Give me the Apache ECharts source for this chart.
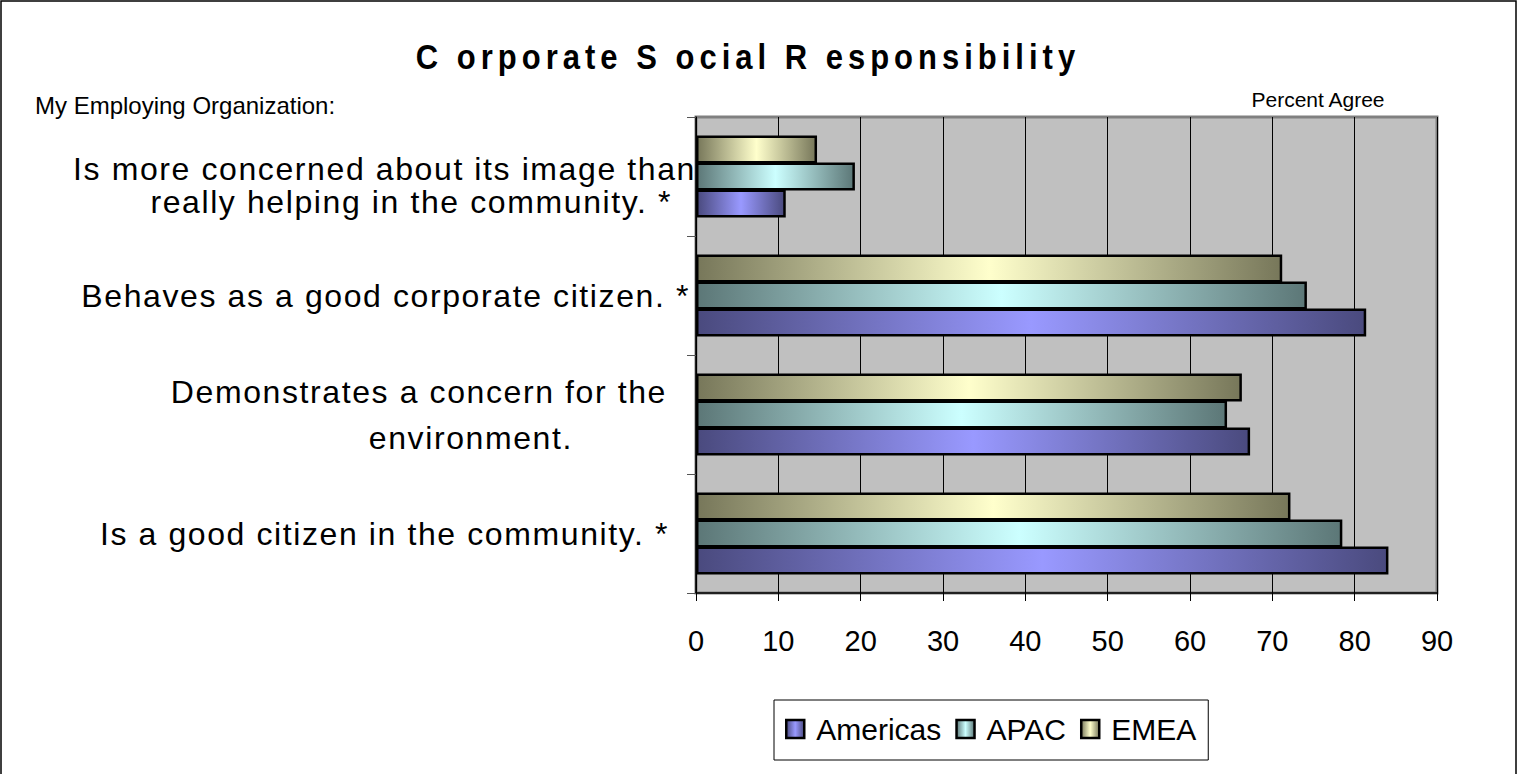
<!DOCTYPE html>
<html><head><meta charset="utf-8">
<script src="https://cdn.jsdelivr.net/npm/echarts@6/dist/echarts.min.js"></script>
<style>html,body{margin:0;padding:0;background:#fff}#c{width:1518px;height:774px}</style>
</head><body><div id="c"></div>
<script>
// Categories listed bottom-to-top (ECharts category y axis starts at the bottom)
const categories = [
  "Is a good citizen in the community. *",
  "Demonstrates a concern for the\nenvironment.",
  "Behaves as a good corporate citizen. *",
  "Is more concerned about its image than\nreally helping in the community. *"
];
const seriesNames = ["Americas", "APAC", "EMEA"];
const americas = [84.1, 67.3, 81.4, 10.9];
const apac     = [78.5, 64.5, 74.2, 19.3];
const emea     = [72.2, 66.3, 71.2, 14.7];
const xTicks = [0, 10, 20, 30, 40, 50, 60, 70, 80, 90];
const titleText = "C orporate S ocial R esponsibility";
const subTitle = "My Employing Organization:";
const axisName = "Percent Agree";

const FONT = '"Liberation Sans", Arial, sans-serif';
function grad(dark, light) {
  return new echarts.graphic.LinearGradient(0, 0, 1, 0, [
    {offset: 0, color: dark}, {offset: 0.5, color: light}, {offset: 1, color: dark}
  ]);
}
const styleOf = {
  Americas: {dark: '#4a4a7e', light: '#9999ff'},
  APAC: {dark: '#5c7777', light: '#ccffff'},
  EMEA: {dark: '#77775a', light: '#ffffcc'}
};
const valuesOf = {Americas: americas, APAC: apac, EMEA: emea};

// per-line right offsets / line heights for the category labels (layout only)
const labelLayout = [
  [{r: 27, lh: 36}],
  [{r: 29, lh: 46}, {r: 123, lh: 46}],
  [{r: 6, lh: 36}],
  [{r: 0, lh: 33, pt: 18}, {r: 24, lh: 33}]
];
const rich = {};
labelLayout.forEach((lines, i) => lines.forEach((l, j) => {
  rich['l' + i + '_' + j] = {
    fontFamily: FONT, fontSize: 32, color: '#000', align: 'right',
    lineHeight: l.lh + (l.pt || 0), padding: [l.pt || 0, l.r, 0, 0]
  };
}));

const chart = echarts.init(document.getElementById('c'), null, {renderer: 'svg'});
chart.setOption({
  animation: false,
  backgroundColor: '#fff',
  graphic: [
    {type: 'rect', shape: {x: 1, y: 1, width: 1515, height: 800}, style: {fill: 'none', stroke: '#000', lineWidth: 1.5}, silent: true, z: 100},
    {type: 'text', x: 748, y: 57, scaleY: 1.12, style: {text: titleText, fontFamily: FONT, fontSize: 31, fontWeight: 'bold', fill: '#000', textAlign: 'center', textVerticalAlign: 'middle'}},
    {type: 'text', x: 35, y: 105, style: {text: subTitle, fontFamily: FONT, fontSize: 24, fill: '#000', textVerticalAlign: 'middle'}},
    {type: 'text', x: 1318, y: 99, style: {text: axisName, fontFamily: FONT, fontSize: 21, fill: '#000', textAlign: 'center', textVerticalAlign: 'middle'}}
  ],
  legend: {
    data: seriesNames,
    left: 774, top: 700,
    padding: [14, 12, 16, 11],
    itemGap: 14,
    icon: 'rect',
    itemWidth: 18, itemHeight: 18,
    borderColor: '#000', borderWidth: 1,
    textStyle: {fontFamily: FONT, fontSize: 30, color: '#000', padding: [0, 0, 0, 7]},
    itemStyle: {borderColor: '#000', borderWidth: 2.5}
  },
  grid: {
    left: 696, right: 81, top: 117, bottom: 181,
    show: true, backgroundColor: '#c0c0c0', borderColor: '#808080', borderWidth: 3
  },
  xAxis: {
    type: 'value', min: 0, max: 90, interval: 10,
    axisLine: {show: true, lineStyle: {color: '#000', width: 1.5}},
    axisTick: {show: true, length: 8, lineStyle: {color: '#000'}},
    splitLine: {show: true, lineStyle: {color: '#000', width: 1}},
    axisLabel: {fontFamily: FONT, fontSize: 29, color: '#000', margin: 33,
      formatter: v => xTicks.includes(v) ? String(v) : ''}
  },
  yAxis: {
    type: 'category', data: categories,
    axisLine: {show: true, lineStyle: {color: '#000', width: 1.5}},
    axisTick: {show: true, length: 9, lineStyle: {color: '#555'}},
    axisLabel: {
      fontFamily: FONT, fontSize: 32, color: '#000', margin: 0, align: 'right',
      formatter: (v, idx) => v.split('\n').map((s, j) => '{l' + idx + '_' + j + '|' + s + '}').join('\n'),
      rich
    }
  },
  series: ['EMEA', 'APAC', 'Americas'].map(name => ({
    name, type: 'bar', data: valuesOf[name],
    barWidth: 28, barGap: '-4%',
    itemStyle: {color: grad(styleOf[name].dark, styleOf[name].light), borderColor: '#000', borderWidth: 2.5}
  }))
});

function spacing() {
  const texts = chart.getDom().querySelectorAll('text');
  texts.forEach(t => {
    const s = t.textContent;
    if (s === titleText) t.style.letterSpacing = '5px';
    else if (categories.some(c => c.split('\n').includes(s))) t.style.letterSpacing = '1.6px';
  });
}
spacing();
chart.on('finished', spacing);
chart.on('rendered', spacing);
</script></body></html>
